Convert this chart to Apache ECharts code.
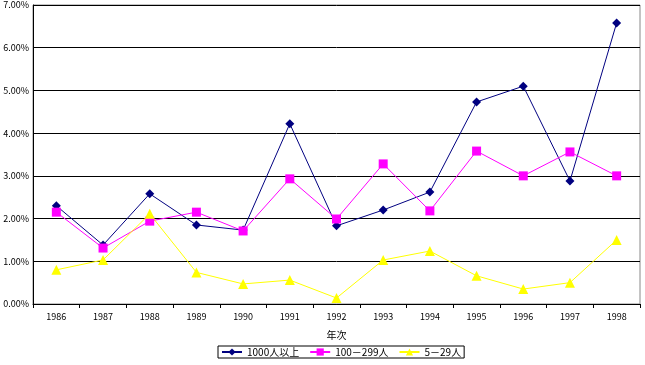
<!DOCTYPE html>
<html><head><meta charset="utf-8">
<script src="https://cdn.jsdelivr.net/npm/echarts@6/dist/echarts.min.js"></script>
<style>html,body{margin:0;padding:0;background:#fff}#c{width:645px;height:365px}</style>
</head><body><div id="c"></div>
<script>
var years = ['1986','1987','1988','1989','1990','1991','1992','1993','1994','1995','1996','1997','1998'];
var s1000 = [2.30,1.38,2.58,1.85,1.73,4.22,1.83,2.20,2.62,4.73,5.10,2.88,6.58];
var s100 = [2.15,1.31,1.94,2.15,1.71,2.93,1.99,3.28,2.18,3.58,3.00,3.56,3.00];
var s5 = [0.80,1.03,2.11,0.74,0.47,0.56,0.14,1.03,1.24,0.66,0.35,0.50,1.50];
var names = ['1000人以上','100－299人','5－29人'];
var font = 'Noto Sans CJK JP';
var chart = echarts.init(document.getElementById('c'));
chart.setOption({
  animation:false,
  grid:{left:33,right:5,top:5,bottom:61,show:true,borderColor:'#888',borderWidth:1},
  legend:{
    data:names, left:218, top:346, itemGap:10, itemWidth:20, itemHeight:9,
    borderColor:'#000', borderWidth:1, padding:[1,3,1,3],
    textStyle:{fontSize:10,color:'#000',fontFamily:font}
  },
  xAxis:{type:'category',data:years,boundaryGap:true,
    name:'年次',nameLocation:'middle',nameGap:26,
    nameTextStyle:{fontSize:10,color:'#000',fontFamily:font},
    axisLine:{lineStyle:{color:'#000',width:1}},
    axisTick:{show:true,length:4,inside:false,lineStyle:{color:'#000'}},
    axisLabel:{fontSize:9,color:'#000',margin:8,fontFamily:font}},
  yAxis:{type:'value',min:0,max:7,interval:1,
    axisLine:{show:true,lineStyle:{color:'#000',width:1}},
    axisTick:{show:false},
    splitLine:{lineStyle:{color:'#000',width:1}},
    axisLabel:{fontSize:9,color:'#000',margin:4,fontFamily:font,
      formatter:function(v){return v.toFixed(2)+'%';}}},
  series:[
    {name:names[0],type:'line',data:s1000,symbol:'diamond',symbolSize:9,
      itemStyle:{color:'#000080'},lineStyle:{color:'#000080',width:1}},
    {name:names[1],type:'line',data:s100,symbol:'rect',symbolSize:9,
      itemStyle:{color:'#FF00FF'},lineStyle:{color:'#FF00FF',width:1}},
    {name:names[2],type:'line',data:s5,symbol:'triangle',symbolSize:10,
      itemStyle:{color:'#FFFF00'},lineStyle:{color:'#FFFF00',width:1}}
  ]
});
</script></body></html>
